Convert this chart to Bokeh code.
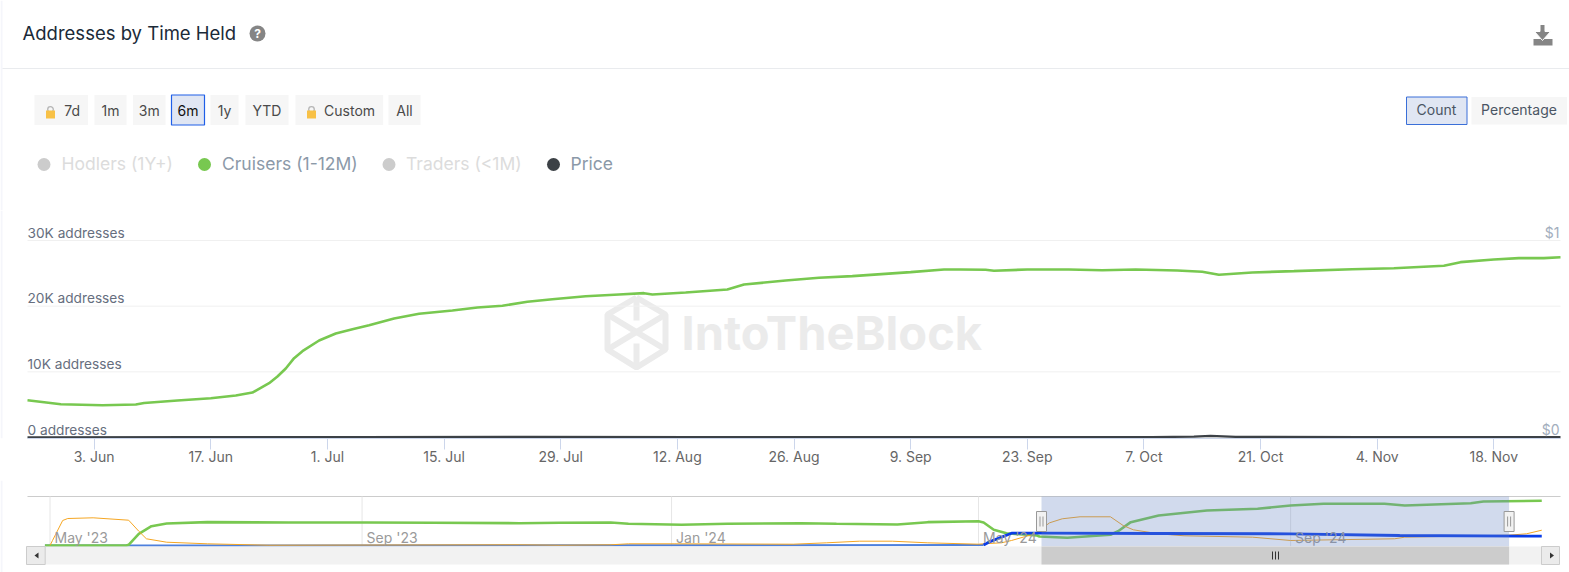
from datetime import datetime, timezone
from bokeh.embed import file_html
from bokeh.layouts import column
from bokeh.models import FixedTicker, Range1d
from bokeh.plotting import figure
from bokeh.resources import INLINE
from bokeh.core.properties import value

# ---------------- data ----------------
main_days = [0,4,9,13,14,18,22,25,27,29,30,31,32,33,35,37,39,41,44,47,51,54,57,60,63,67,71,74,75,79,84,86,91,95,99,106,110,112,115,116,120,125,129,133,138,141,143,147,152,159,164,170,172,176,179,182,184]
cruisers = [5680,5070,4920,5025,5250,5635,5985,6400,6850,8270,9290,10510,12080,13140,14770,15840,16490,17100,18120,18840,19340,19800,20060,20670,21060,21520,21780,21980,21780,22080,22540,23300,23910,24320,24570,25180,25590,25590,25540,25390,25590,25590,25480,25590,25430,25240,24780,25130,25330,25630,25780,26150,26700,27110,27310,27310,27460]
price_days = [0,20,40,60,80,100,120,135,140,142,145,160,184]
price = [.0008,.0012,.001,.0025,.0015,.0015,.002,.002,.0045,.008,.003,.002,.0015]
x_tick_dates = ["2024-06-03","2024-06-17","2024-07-01","2024-07-15","2024-07-29","2024-08-12","2024-08-26","2024-09-09","2024-09-23","2024-10-07","2024-10-21","2024-11-04","2024-11-18"]
x_tick_labels = ["3. Jun","17. Jun","1. Jul","15. Jul","29. Jul","12. Aug","26. Aug","9. Sep","23. Sep","7. Oct","21. Oct","4. Nov","18. Nov"]
y_ticks = [0,10000,20000,30000]
y_tick_labels = ["0 addresses","10K addresses","20K addresses","30K addresses"]
price_ticks = [0,1]
price_tick_labels = ["$0","$1"]

nav_green_days = [-2,30,31,35,40,46,62,94,125,151,185,201,221,228,249,267,296,310,334,346,366,368,372,377,389,390,401,418,421,426,437,456,476,489,502,526,534,560,565,588]
nav_cruisers = [0,0,430,7170,11830,13490,14300,14100,14100,13900,13670,13900,14100,13300,12690,13300,13670,13300,12880,14300,14900,14100,9620,7540,6130,5520,4720,6560,8770,14300,18390,21460,22500,24520,25560,25560,24520,25930,26970,27400]
nav_orange_days = [0,1,5,7,17,31,35,38,46,62,86,185,201,221,228,246,293,306,319,332,346,366,368,375,379,389,391,394,399,406,418,423,427,437,447,474,489,530,534,575,582,588]
nav_traders = [0,3070,15330,16550,16980,15510,8770,4110,2020,1040,180,430,180,430,1040,1040,800,1640,2640,2640,1640,800,1040,1640,3070,7540,10420,13900,16370,17600,17600,12260,9620,7170,5950,5100,3070,4110,5100,6310,7170,9380]
nav_blue_days = [-2,368,370,379,391,437,489,532,588]
nav_hodlers = [0,300,2040,7540,7540,7360,7170,6130,5700]
nav_tick_dates = ["2023-05-01","2023-09-01","2024-01-01","2024-05-01","2024-09-01"]
nav_tick_labels = ["May '23","Sep '23","Jan '24","May '24","Sep '24"]

buttons = ["7d","1m","3m","6m","1y","YTD","Custom","All"]
legend_names = ["Hodlers (1Y+)","Cruisers (1-12M)","Traders (<1M)","Price"]

# ---------------- helpers ----------------
FONT = "Inter"
def ms(s):
    return int(datetime.strptime(s, "%Y-%m-%d").replace(tzinfo=timezone.utc).timestamp() * 1000)
DAY = 86400000
M0 = ms("2024-05-26")
MEND = M0 + 184 * DAY
N0 = ms("2023-05-01")
NPX = 2.537
PPD = 1533 / 184
YPP = 30000 / 197
GREEN = "#78c850"
W = 1569
SIDE = "#f5f6fb"

def blank(h, **kw):
    p = figure(width=W, height=h, toolbar_location=None, output_backend="svg",
               min_border_left=0, min_border_right=0, min_border_top=0, min_border_bottom=kw.pop("b", 0),
               outline_line_color=None, background_fill_color="white",
               border_fill_color="white", **kw)
    p.grid.visible = False
    return p

def txt(p, x, y, s, size=14, color="#444", align="left", base="middle", style="normal", **kw):
    p.text([x], [y - 0.7], text=[s], text_font=value(FONT), text_font_size=f"{size}px", text_color=color,
           text_align=align, text_baseline=base, text_font_style=style, **kw)

# ---------------- header ----------------
h = blank(210, x_axis_location=None, y_axis_location=None, x_range=Range1d(0, W), y_range=Range1d(210, 0))
h.quad([0], [2], [0], [210], fill_color=SIDE, line_color=None)
h.segment([2], [68], [W], [68], line_color="#e9ebee", line_width=1)
txt(h, 22, 33, "Addresses by Time Held", size=18.5, color="#1b2a38")
h.circle([257], [33], radius=8, fill_color="#858585", line_color=None)
txt(h, 257, 33.5, "?", size=12, color="white", align="center", style="bold")
# download icon
h.quad([1533], [1552], [45], [38.5], fill_color="#858585", line_color=None)
h.patch([1539.5,1544.5,1544.5,1550,1542,1534,1539.5], [24,24,31,31,40,31,31], fill_color="#858585", line_color="white", line_width=1)

spans = [(34,87.5),(94,126),(132.6,165),(171,204),(210,238),(245,288),(295,382.6),(388,420)]
for name, (a, b) in zip(buttons, spans):
    sel = name == "6m"
    h.quad([a], [b], [94.5], [124.5], fill_color="#e0e6f3" if sel else "#f6f6f6",
           line_color="#1f5fe8" if sel else None, line_width=1.2)
    locked = name in ("7d", "Custom")
    if locked:
        cx = a + 16
        h.circle([cx], [109], radius=2.8, fill_color=None, line_color="#b5b5b5", line_width=1.3)
        h.quad([cx-4.5], [cx+4.5], [110], [118], fill_color="#f8c146", line_color=None)
        txt(h, b-8, 111, name, color="#4a4a4a", align="right")
    else:
        txt(h, (a+b)/2, 111, name, color="#111" if sel else "#4a4a4a", align="center")

for name, cx, tx, dot, col in zip(legend_names, [43.5,204,388.5,553], [61,221.5,405.5,570],
                                  ["#cccccc",GREEN,"#cccccc","#3c4146"],
                                  ["#dcdcdc","#8b99a8","#dcdcdc","#8b99a8"]):
    h.circle([cx], [164], radius=6.5, fill_color=dot, line_color=None)
    txt(h, tx, 164, name, size=17.5, color=col)

h.quad([1406], [1466.5], [96.5], [124], fill_color="#e0e6f3", line_color="#3a6fd8", line_width=1)
txt(h, 1436, 110, "Count", color="#4a5563", align="center")
h.quad([1471], [1566.5], [96.5], [124], fill_color="#f6f6f6", line_color=None)
txt(h, 1518.5, 110, "Percentage", color="#4a5563", align="center")

# ---------------- main chart ----------------
y_lo, y_hi = (437 - 438) * YPP, (437 - 210) * YPP
p = blank(270, b=42, y_axis_location=None, x_axis_type="datetime",
          x_range=Range1d(M0 - 27 / PPD * DAY, M0 + (W - 27) / PPD * DAY),
          y_range=Range1d(y_lo, y_hi))
p.extra_y_ranges = {"price": Range1d(y_lo / 30000, y_hi / 30000), "px": Range1d(438, 210)}
p.extra_x_ranges = {"px": Range1d(0, W)}
p.quad([0], [2], [210], [438], fill_color=SIDE, line_color=None, x_range_name="px", y_range_name="px")

# watermark
wm = "#ebebeb"
p.multi_line([[636,665,665,636,607,607,636],[607,665],[665,607],[636,636],[636,636]],
             [[297,314,349,367,349,314,297],[314,349],[314,349],[297,320],[343,367]],
             line_color=wm, line_width=6, x_range_name="px", y_range_name="px")
p.text([681], [332], text=["IntoTheBlock"], text_font=value(FONT), text_font_size="47px", text_font_style="bold",
       text_color=wm, text_baseline="middle", x_range_name="px", y_range_name="px")

grid_ticks = y_ticks[1:]
p.segment([M0] * 3, grid_ticks, [MEND] * 3, grid_ticks, line_color="#f0f0f0", line_width=1)

p.line([M0 + d * DAY for d in main_days], cruisers, line_color=GREEN, line_width=2.6)
p.line([M0 + d * DAY for d in price_days], price, line_color="#3c4146", line_width=2.4, y_range_name="price")

ax = p.xaxis[0]
ax.ticker = FixedTicker(ticks=[ms(d) for d in x_tick_dates])
ax.major_label_overrides = {ms(d): l for d, l in zip(x_tick_dates, x_tick_labels)}
ax.bounds = (M0, MEND)
ax.axis_line_color = "#ccd6eb"
ax.major_tick_line_color = "#ccd6eb"
ax.major_tick_out = 11
ax.major_tick_in = 0
ax.minor_tick_line_color = None
ax.major_label_standoff = -2
ax.major_label_text_font = FONT
ax.major_label_text_font_size = "14px"
ax.major_label_text_color = "#666666"

p.text([M0] * len(y_ticks), y_ticks, text=y_tick_labels, text_font=value(FONT), text_font_size="13.7px",
       text_color="#666e7e", text_align="left", text_baseline="bottom", y_offset=0)
p.text([MEND] * len(price_ticks), price_ticks, text=price_tick_labels, x_offset=-1, y_offset=0, text_font=value(FONT),
       text_font_size="14px", text_color="#a3aebd", text_align="right", text_baseline="bottom", y_range_name="price")

# ---------------- navigator ----------------
NY = 613
n = blank(92, x_axis_location=None, y_axis_location=None,
          x_range=Range1d(N0 + (0 - 49.5) / NPX * DAY, N0 + (W - 49.5) / NPX * DAY),
          y_range=Range1d((545 - 572) * NY, (545 - 480) * NY))
n.extra_x_ranges = {"px": Range1d(0, W)}
n.extra_y_ranges = {"px": Range1d(572, 480)}
PX = dict(x_range_name="px", y_range_name="px")
n.quad([0], [2], [480], [572], fill_color=SIDE, line_color=None, **PX)
n.segment([27], [496], [1560], [496], line_color="#cccccc", line_width=1.2, **PX)
tx = [ms(d) for d in nav_tick_dates]
n.segment(tx, [496]*5, tx, [546]*5, line_color="#e6e6e6", line_width=1, y_range_name="px")

def nd(ds):
    return [N0 + d * DAY for d in ds]
n.line(nd(nav_blue_days[:2]), nav_hodlers[:2], line_color="#4d80dd", line_width=2)
n.line(nd(nav_green_days), nav_cruisers, line_color=GREEN, line_width=2.6)
n.line(nd(nav_orange_days), nav_traders, line_color="#f5a623", line_width=1)
n.line(nd(nav_blue_days[1:]), nav_hodlers[1:], line_color="#0a3de8", line_width=2.8)

for d, l in zip(tx, nav_tick_labels):
    n.text([d], [536.5], text=[l], x_offset=4.5, text_font=value(FONT), text_font_size="14px",
           text_color="#9a9a9a", text_baseline="middle", y_range_name="px")

# selection mask + scrollbar
n.quad([1041], [1508.6], [496], [546], fill_color="#6685c2", fill_alpha=0.3, line_color=None, **PX)
n.quad([26], [1559], [546], [564], fill_color="#f2f2f2", line_color=None, **PX)
n.quad([1041], [1508.6], [546], [564], fill_color="#cccccc", line_color=None, **PX)
n.quad([26,1541], [44.7,1559], [546,546], [564,564], fill_color="#ebebeb", line_color="#cccccc", line_width=1, **PX)
n.patch([38,38,34], [552,558,555], fill_color="#333333", line_color=None, **PX)
n.patch([1549.5,1549.5,1553.5], [552,558,555], fill_color="#333333", line_color=None, **PX)
n.segment([1272,1275,1278], [551]*3, [1272,1275,1278], [559]*3, line_color="#333333", line_width=1, **PX)
for hx in (1041, 1508.6):
    n.quad([hx-5], [hx+5], [511], [531], fill_color="#f2f2f2", line_color="#999999", line_width=1, **PX)
    n.segment([hx-1.5,hx+1.5], [516]*2, [hx-1.5,hx+1.5], [526]*2, line_color="#999999", line_width=1, **PX)

page = column(h, p, n, spacing=0)
open("out.html", "w").write(file_html(page, INLINE))
